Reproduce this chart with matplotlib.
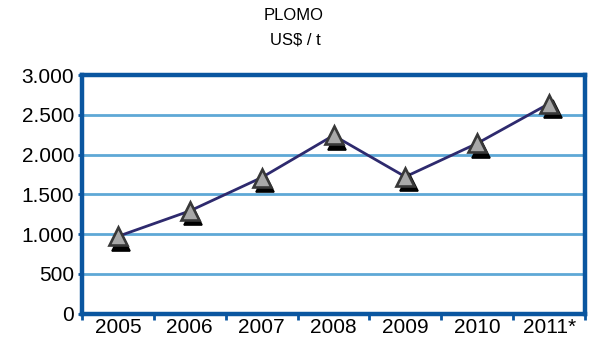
import matplotlib
matplotlib.use("Agg")
import matplotlib.pyplot as plt
import matplotlib.transforms as mtransforms
from matplotlib.ticker import FuncFormatter, FixedLocator

plt.rcParams['font.family'] = ['Liberation Sans', 'DejaVu Sans']

years = ["2005", "2006", "2007", "2008", "2009", "2010", "2011*"]
prices = [970, 1290, 1710, 2240, 1720, 2140, 2640]
yticks = [0, 500, 1000, 1500, 2000, 2500, 3000]

blue = "#0a56a0"
grid_blue = "#5ea8d6"

W, H = 595, 340
left, right, bottom, top = 82, 585, 313.5, 75
fig = plt.figure(figsize=(W / 100, H / 100), dpi=100)
ax = fig.add_axes([left / W, (H - bottom) / H, (right - left) / W, (bottom - top) / H])

x = list(range(len(years)))
ax.set_xlim(-0.5, len(years) - 0.5)
ax.set_ylim(0, 3000)

for v in yticks[1:-1]:
    ax.axhline(v, color=grid_blue, lw=2.0, zorder=1)

ax.plot(x, prices, color="#2e2a6e", lw=2.0, zorder=3)

shadow = mtransforms.offset_copy(ax.transData, fig=fig, x=3.5, y=-5.5, units='dots')
ax.plot(x, prices, ls='none', marker='^', ms=12.5, mfc='black', mec='black',
        mew=1.2, transform=shadow, zorder=4)
ax.plot(x, prices, ls='none', marker='^', ms=12.5, mfc='#a8a8a8', mec='#383838',
        mew=1.9, zorder=5)

for s in ax.spines.values():
    s.set_color(blue)
    s.set_linewidth(3.2)

ax.yaxis.set_major_locator(FixedLocator(yticks))
ax.yaxis.set_major_formatter(FuncFormatter(lambda v, p: f"{int(v):,}".replace(",", ".")))
ax.set_xticks(x)
ax.set_xticklabels(years)
ax.set_xticks([i + 0.5 for i in range(-1, len(years))], minor=True)
ax.tick_params(axis='x', which='major', length=0, labelsize=15, pad=3)
ax.tick_params(axis='x', which='minor', length=4, width=2, color=blue, direction='out')
ax.tick_params(axis='y', which='major', length=3, width=2, color=blue, direction='out',
               labelsize=15, pad=2.5)

fig.text(0.493, 1 - 16 / H, "PLOMO", ha='center', va='center', fontsize=12)
fig.text(0.497, 1 - 40 / H, "US$ / t", ha='center', va='center', fontsize=12)

fig.savefig("out.png", dpi=100)
